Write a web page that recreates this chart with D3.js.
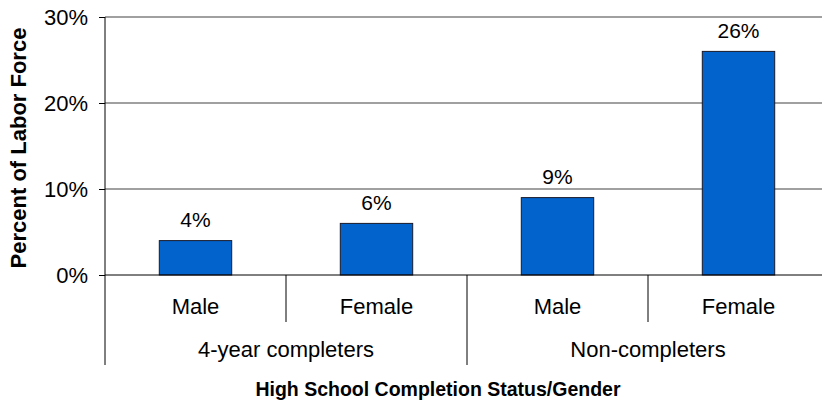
<!DOCTYPE html>
<html>
<head>
<meta charset="utf-8">
<script src="https://cdn.jsdelivr.net/npm/d3@7"></script>
<style>
  body { margin: 0; background: #fff; }
  svg { display: block; font-family: "Liberation Sans", Arial, sans-serif; }
</style>
</head>
<body>
<svg id="chart" width="822" height="404"></svg>
<script>
const groups = ["4-year completers", "Non-completers"];
const genders = ["Male", "Female"];
const values = [0.04, 0.06, 0.09, 0.26];
const yTicks = [0, 0.1, 0.2, 0.3];

const data = [];
groups.forEach((g, i) => {
  genders.forEach((s, j) => {
    data.push({ key: g + "|" + s, group: g, gender: s, value: values[i * 2 + j] });
  });
});

const svg = d3.select("#chart");
const plotLeft = 105, plotRight = 829, plotTop = 17, base = 275;

const x = d3.scaleBand().domain(data.map((d) => d.key)).range([plotLeft, plotRight]);
const y = d3.scaleLinear().domain([0, 0.3]).range([base, plotTop]);
const pct = d3.format(".0%");
const barW = x.bandwidth() * 0.4;

// gridlines
svg.append("g")
  .selectAll("line")
  .data(yTicks.filter((t) => t > 0))
  .enter()
  .append("line")
  .attr("x1", plotLeft)
  .attr("x2", plotRight)
  .attr("y1", (d) => y(d))
  .attr("y2", (d) => y(d))
  .attr("stroke", "#808080")
  .attr("stroke-width", 1.3);

// y axis
const yAxis = svg.append("g")
  .attr("transform", `translate(${plotLeft},0)`)
  .call(d3.axisLeft(y).tickValues(yTicks).tickFormat(pct).tickSize(6).tickPadding(11));
yAxis.select(".domain").remove();
yAxis.selectAll(".tick line").attr("stroke", "#000");
yAxis.selectAll(".tick text")
  .attr("font-size", 22)
  .attr("font-family", "Liberation Sans, Arial, sans-serif")
  .attr("fill", "#000");

// bars
svg.append("g")
  .selectAll("rect")
  .data(data)
  .enter()
  .append("rect")
  .attr("x", (d) => x(d.key) + (x.bandwidth() - barW) / 2)
  .attr("y", (d) => y(d.value))
  .attr("width", barW)
  .attr("height", (d) => base - y(d.value))
  .attr("fill", "#0263cc")
  .attr("stroke", "#1a1a2a")
  .attr("stroke-width", 1);

// value labels
svg.append("g")
  .selectAll("text")
  .data(data)
  .enter()
  .append("text")
  .attr("x", (d) => x(d.key) + x.bandwidth() / 2)
  .attr("y", (d) => y(d.value) - 13.5)
  .attr("text-anchor", "middle")
  .attr("font-size", 21)
  .text((d) => pct(d.value));

// baseline + vertical axis
svg.append("line")
  .attr("x1", plotLeft).attr("x2", plotRight)
  .attr("y1", base).attr("y2", base)
  .attr("stroke", "#000");
svg.append("line")
  .attr("x1", plotLeft).attr("x2", plotLeft)
  .attr("y1", plotTop).attr("y2", 365)
  .attr("stroke", "#000");

// separators between categories
svg.append("g")
  .selectAll("line")
  .data(data.slice(1))
  .enter()
  .append("line")
  .attr("x1", (d) => x(d.key))
  .attr("x2", (d) => x(d.key))
  .attr("y1", base)
  .attr("y2", (d) => (d.gender === genders[0] ? 365 : 322))
  .attr("stroke", "#000");

// gender labels
svg.append("g")
  .selectAll("text")
  .data(data)
  .enter()
  .append("text")
  .attr("x", (d) => x(d.key) + x.bandwidth() / 2)
  .attr("y", 314)
  .attr("text-anchor", "middle")
  .attr("font-size", 22)
  .text((d) => d.gender);

// group labels
svg.append("g")
  .selectAll("text")
  .data(groups)
  .enter()
  .append("text")
  .attr("x", (g) => x(g + "|" + genders[0]) + x.bandwidth())
  .attr("y", 357)
  .attr("text-anchor", "middle")
  .attr("font-size", 22)
  .text((g) => g);

// axis titles
svg.append("text")
  .attr("x", 438)
  .attr("y", 396)
  .attr("text-anchor", "middle")
  .attr("font-size", 19.5)
  .attr("font-weight", "bold")
  .text("High School Completion Status/Gender");

svg.append("text")
  .attr("transform", "translate(26,148) rotate(-90)")
  .attr("text-anchor", "middle")
  .attr("font-size", 22)
  .attr("font-weight", "bold")
  .text("Percent of Labor Force");
</script>
</body>
</html>
